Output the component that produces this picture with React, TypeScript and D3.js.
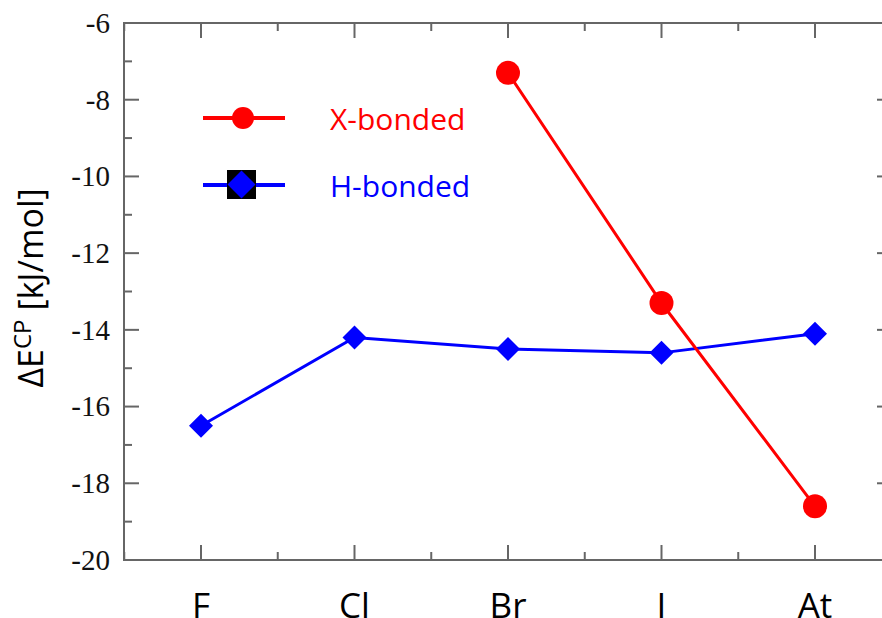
import React, { useRef, useEffect } from "react";
import * as d3 from "d3";

const categories = ["F", "Cl", "Br", "I", "At"];
const xBonded: [string, number][] = [
  ["Br", -7.3],
  ["I", -13.3],
  ["At", -18.6],
];
const hBonded: [string, number][] = [
  ["F", -16.5],
  ["Cl", -14.2],
  ["Br", -14.5],
  ["I", -14.6],
  ["At", -14.1],
];
const yMajor = [-20, -18, -16, -14, -12, -10, -8, -6];
const yMinor = [-19, -17, -15, -13, -11, -9, -7];

export default function App() {
  const ref = useRef<SVGSVGElement>(null);

  useEffect(() => {
    const width = 882;
    const height = 618;
    const svg = d3.select(ref.current);
    svg.selectAll("*").remove();
    svg.attr("width", width).attr("height", height);

    const left = 124;
    const right = 892;
    const top = 23;
    const bottom = 560;

    const x = d3.scalePoint<string>().domain(categories).range([201, 815]);
    const step = x.step();
    const y = d3.scaleLinear().domain([-20, -6]).range([bottom, top]);

    const axisColor = "#666";
    const sans = "'Open Sans', sans-serif";
    const serif = "'Liberation Serif', Tinos, 'Times New Roman', Times, 'DejaVu Serif', 'Noto Serif', serif";
    const g = svg.append("g");

    // frame (left, top, bottom; right edge falls outside the picture)
    g.append("path")
      .attr("d", `M${right},${top}H${left}V${bottom}H${right}`)
      .attr("fill", "none")
      .attr("stroke", axisColor)
      .attr("stroke-width", 2);

    const xMinor = categories.map((c) => x(c)! - step / 2).concat([x("At")! + step / 2]);

    // ticks on all four sides, pointing inward
    const ticks = g.append("g").attr("stroke", axisColor).attr("stroke-width", 2);
    categories.forEach((c) => {
      const px = x(c)!;
      ticks.append("line").attr("x1", px).attr("x2", px).attr("y1", bottom).attr("y2", bottom - 15);
      ticks.append("line").attr("x1", px).attr("x2", px).attr("y1", top).attr("y2", top + 15);
    });
    xMinor.forEach((px) => {
      ticks.append("line").attr("x1", px).attr("x2", px).attr("y1", bottom).attr("y2", bottom - 8);
      ticks.append("line").attr("x1", px).attr("x2", px).attr("y1", top).attr("y2", top + 8);
    });
    yMajor.forEach((v) => {
      ticks.append("line").attr("x1", left).attr("x2", left + 15).attr("y1", y(v)).attr("y2", y(v));
      ticks.append("line").attr("x1", right).attr("x2", right - 15).attr("y1", y(v)).attr("y2", y(v));
    });
    yMinor.forEach((v) => {
      ticks.append("line").attr("x1", left).attr("x2", left + 8).attr("y1", y(v)).attr("y2", y(v));
      ticks.append("line").attr("x1", right).attr("x2", right - 8).attr("y1", y(v)).attr("y2", y(v));
    });

    // y tick labels
    g.selectAll("text.ytick")
      .data(yMajor)
      .join("text")
      .attr("class", "ytick")
      .attr("x", 110)
      .attr("y", (d) => y(d))
      .attr("dy", "0.34em")
      .attr("text-anchor", "end")
      .attr("font-family", serif)
      .attr("font-size", 29)
      .attr("fill", "#111")
      .text((d) => d);

    // x tick labels
    g.selectAll("text.xtick")
      .data(categories)
      .join("text")
      .attr("class", "xtick")
      .attr("x", (d) => x(d)!)
      .attr("y", 618)
      .attr("text-anchor", "middle")
      .attr("font-family", sans)
      .attr("font-size", 35)
      .attr("fill", "#000")
      .text((d) => d);

    // y axis title
    const yt = g
      .append("text")
      .attr("transform", `translate(43,288) rotate(-90)`)
      .attr("text-anchor", "middle")
      .attr("font-family", sans)
      .attr("font-size", 34)
      .attr("fill", "#000");
    yt.append("tspan").text("ΔE");
    yt.append("tspan").attr("dy", -12).attr("font-size", 24).text("CP");
    yt.append("tspan").attr("dy", 12).text(" [kJ/mol]");

    const line = d3
      .line<[string, number]>()
      .x((d) => x(d[0])!)
      .y((d) => y(d[1]));

    const diamond = (cx: number, cy: number, r: number) =>
      `M${cx},${cy - r}L${cx + r},${cy}L${cx},${cy + r}L${cx - r},${cy}Z`;

    // H-bonded series
    g.append("path")
      .datum(hBonded)
      .attr("d", line)
      .attr("fill", "none")
      .attr("stroke", "#0000ff")
      .attr("stroke-width", 3);
    g.selectAll("path.dia")
      .data(hBonded)
      .join("path")
      .attr("class", "dia")
      .attr("d", (d) => diamond(x(d[0])!, y(d[1]), 12))
      .attr("fill", "#0000ff");

    // X-bonded series
    g.append("path")
      .datum(xBonded)
      .attr("d", line)
      .attr("fill", "none")
      .attr("stroke", "#ff0000")
      .attr("stroke-width", 3);
    g.selectAll("circle.xb")
      .data(xBonded)
      .join("circle")
      .attr("class", "xb")
      .attr("cx", (d) => x(d[0])!)
      .attr("cy", (d) => y(d[1]))
      .attr("r", 12)
      .attr("fill", "#ff0000");

    // legend
    const lg = g.append("g");
    lg.append("line").attr("x1", 203).attr("x2", 285).attr("y1", 118).attr("y2", 118)
      .attr("stroke", "#ff0000").attr("stroke-width", 4);
    lg.append("circle").attr("cx", 243).attr("cy", 118).attr("r", 11).attr("fill", "#ff0000");
    lg.append("text").attr("x", 330).attr("y", 130).attr("font-family", sans)
      .attr("font-size", 30).attr("fill", "#ff0000").text("X-bonded");

    lg.append("line").attr("x1", 203).attr("x2", 285).attr("y1", 185).attr("y2", 185)
      .attr("stroke", "#0000ff").attr("stroke-width", 4);
    lg.append("rect").attr("x", 227).attr("y", 170).attr("width", 29).attr("height", 29).attr("fill", "#000");
    lg.append("path").attr("d", diamond(241.5, 184.5, 14)).attr("fill", "#0000ff");
    lg.append("text").attr("x", 330).attr("y", 197).attr("font-family", sans)
      .attr("font-size", 30).attr("fill", "#0000ff").text("H-bonded");
  }, []);

  return (
    <div style={{ position: "absolute", left: 0, top: 0, width: 882, height: 618, overflow: "hidden" }}>
      <svg ref={ref} style={{ display: "block" }} />
    </div>
  );
}
